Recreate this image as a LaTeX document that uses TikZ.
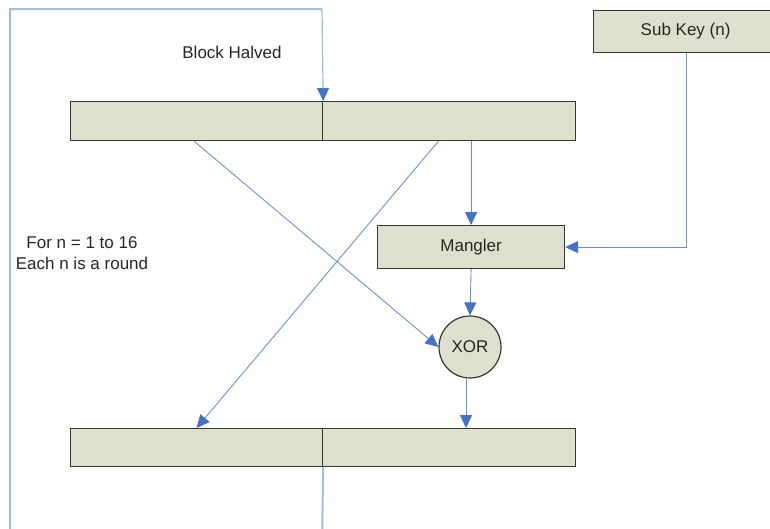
\documentclass[tikz,border=0pt]{standalone}
\usepackage{fontspec}
\setmainfont{Liberation Sans}
\usetikzlibrary{arrows.meta,calc}
\definecolor{boxfill}{RGB}{221,224,204}
\definecolor{boxline}{RGB}{55,55,55}
\definecolor{flow}{RGB}{110,145,205}
\definecolor{tip}{RGB}{68,114,196}
\definecolor{loopc}{RGB}{160,188,226}
\tikzset{
  blk/.style={draw=boxline, line width=1.2pt, fill=boxfill, inner sep=0pt, anchor=north west},
  lbl/.style={font=\fontsize{17}{21}\selectfont, text=black!85, inner sep=0pt},
  flowline/.style={draw=flow, line width=0.9pt, -{Triangle[length=13pt,width=12pt,fill=tip,color=tip]}},
  loopline/.style={draw=loopc, line width=2pt},
}
\begin{document}
\begin{tikzpicture}[x=1pt,y=-1pt]
\useasboundingbox (0,0) rectangle (770,528);
\fill[white] (0,0) rectangle (770,528);
% blocks
\node[blk, minimum width=252pt, minimum height=39pt] (tl) at (70,101) {};
\node[blk, minimum width=253pt, minimum height=39pt] (tr) at (322,101) {};
\node[blk, minimum width=252pt, minimum height=38pt] (bl) at (70,428) {};
\node[blk, minimum width=253pt, minimum height=38pt] (br) at (322,428) {};
\node[blk, minimum width=184pt, minimum height=42pt] (sk) at (593,10) {};
\node[lbl] at (sk.center) {Sub Key (n)};
\node[blk, minimum width=187pt, minimum height=43pt] (mang) at (377,225) {};
\node[lbl] at (mang.center) {Mangler};
\node[draw=boxline, line width=1.2pt, fill=boxfill, circle, minimum size=62pt, inner sep=0pt, lbl] (xor) at (470,347) {XOR};
% labels
\node[lbl] (bh) at (232,52) {Block Halved};
\node[lbl, align=center] (fn) at (82,253) {For n = 1 to 16\\Each n is a round};
% loop
\draw[loopline] (bl.south east) -- (322,545) -- (10,545) -- (10,9) -- (322,9);
\draw[flowline, draw=loopc, line width=1.2pt] (322,9) -- (tl.north east);
% flow
\draw[flowline] (mang.north |- tr.south) -- (mang.north);
\draw[flowline] (sk.south -| 686,0) |- (mang.east);
\draw[flowline] (mang.south) -- (xor.north);
\draw[flowline] (xor.south -| 466,0) -- (466,428);
\draw[flowline] ($(tl.south west)!0.49!(tl.south east)$) -- (xor.west);
\draw[flowline] ($(tr.south west)!0.458!(tr.south east)$) -- (bl.north);
\end{tikzpicture}
\end{document}
